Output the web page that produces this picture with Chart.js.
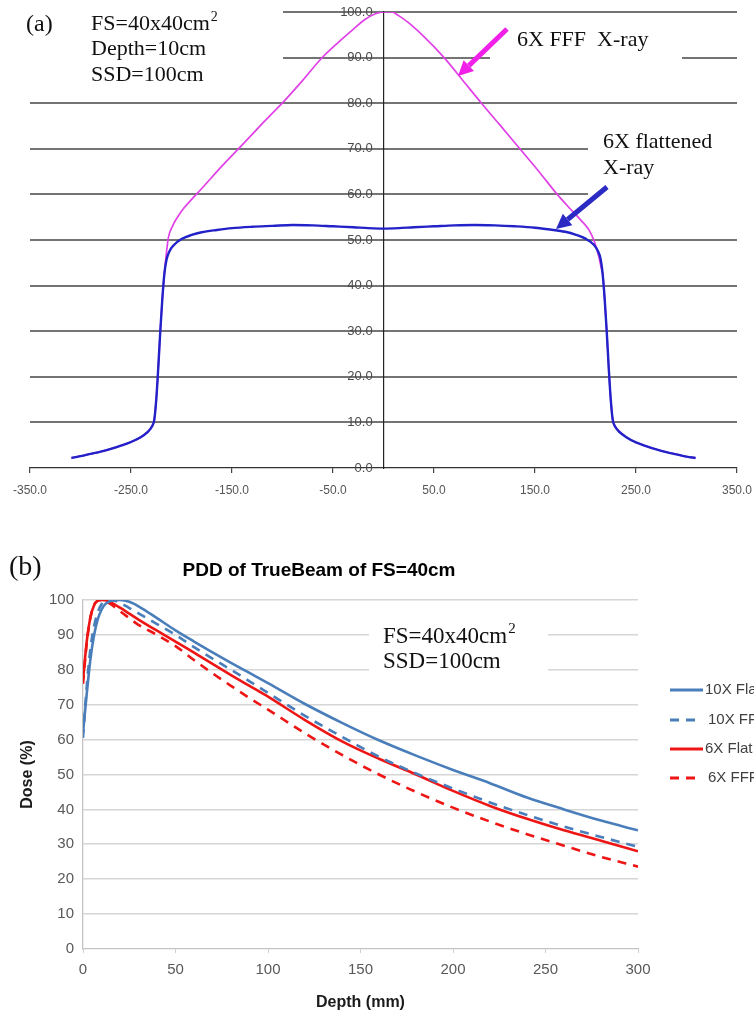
<!DOCTYPE html>
<html><head><meta charset="utf-8">
<script src="https://cdn.jsdelivr.net/npm/chart.js@4.4.1/dist/chart.umd.min.js"></script>
<style>
html,body{margin:0;padding:0;background:#fff;overflow:hidden;}
#wrapA{position:absolute;left:0;top:0;width:754px;height:500px;}
#wrapB{position:absolute;left:0;top:500px;width:754px;height:521px;}
canvas{display:block;}
</style></head><body>
<div id="wrapA"><canvas id="cA" width="754" height="500" style="width:754px;height:500px"></canvas></div>
<div id="wrapB"><canvas id="cB" width="754" height="521" style="width:754px;height:521px"></canvas></div>
<script>
// ---------- Panel (a): beam profiles (off-axis distance in mm, relative dose) ----------
const profileFlattened = [[-309,2.2],[-300,2.6],[-290,3.1],[-280,3.6],[-270,4.2],[-260,4.9],[-250,5.7],[-240,6.8],[-234,7.8],[-229,9.2],[-227,10.5],[-225,15],[-223,22],[-221,30],[-219,37],[-217,42.5],[-215,45.5],[-212,47.5],[-208,48.8],[-200,50.2],[-190,51.1],[-180,51.7],[-165,52.2],[-150,52.6],[-130,52.9],[-110,53.1],[-90,53.3],[-70,53.2],[-50,53.0],[-30,52.8],[-15,52.6],[0,52.5],[15,52.6],[30,52.8],[50,53.0],[70,53.2],[90,53.3],[110,53.2],[130,53.0],[150,52.7],[165,52.3],[180,51.8],[190,51.2],[200,50.3],[208,49.0],[212,47.7],[215,45.8],[217,42.5],[219,37],[221,30],[223,22],[225,15],[227,10.5],[229,9.2],[234,7.8],[240,6.8],[250,5.6],[260,4.8],[270,4.1],[280,3.5],[290,3.0],[300,2.5],[309,2.2]];
const profileFFF = [[-309,2.2],[-300,2.6],[-290,3.1],[-280,3.6],[-270,4.2],[-260,4.9],[-250,5.7],[-240,6.8],[-234,7.8],[-231,8.5],[-229,9.2],[-227,10.5],[-225,15],[-223,22],[-221,30],[-219,37],[-217,42.5],[-215.5,46],[-213,50.5],[-209,53],[-204,55],[-198,56.9],[-190,58.9],[-180,61.3],[-160,66.2],[-138,71.3],[-118,76],[-97,80.8],[-80,85],[-62,89.7],[-45,93.3],[-30,96.2],[-18,98.4],[-8,99.6],[0,100],[8,100],[15,99.2],[25,97.6],[40,94.6],[60,90],[80,84.6],[97,80],[115,75.3],[135,70],[155,64.7],[172,60],[185,56.8],[196,54.2],[204,52],[209,49.5],[213,46.5],[216,43.5],[217,42.5],[219,37],[221,30],[223,22],[225,15],[227,10.5],[229,9.2],[232,8.4],[240,6.8],[250,5.6],[260,4.8],[270,4.1],[280,3.5],[290,3.0],[300,2.5],[309,2.2]];
const profileXTicks = [-350,-250,-150,-50,50,150,250,350];

// ---------- Panel (b): PDD ----------
const depthMM = [0,2,4,6,8,10,12,15,20,25,30,40,50,60,70,80,90,100,120,140,160,180,200,220,240,260,280,300];
const pdd10XFlat = [62,73,83,90,94.5,97.2,98.8,99.7,100,99.5,98.2,94.8,91.3,88.1,85,82,79.1,76.2,70.2,64.8,59.8,55.4,51.3,47.5,43.4,40,36.8,34];
const pdd10XFFF  = [60.5,75,86,92.5,96.5,98.8,99.8,100,99.2,97.7,96.2,93.1,90,86.5,83.2,80,76.7,73.4,66.8,60.8,55.1,50.3,46,42,38.4,35.1,32.1,29.3];
const pdd6XFlat  = [77,88,95,98.5,99.8,100,99.9,99.3,97.8,96.1,94.4,91.2,88.1,84.9,81.7,78.5,75.4,72.3,65.6,59.5,54.5,50,45.3,41,37.3,34,31,28];
const pdd6XFFF   = [76,87.5,95,98.6,99.8,100,99.7,98.8,96.8,94.8,92.9,90,86.8,82.8,79,75.4,71.9,68.6,61.8,55.6,50,45,40.5,36.5,32.9,29.6,26.4,23.6];
const pddLabels = ['10X Flat','10X FFF','6X Flat','6X FFF'];

const serif = "'Liberation Serif','Times New Roman',serif";
const sans = "'Liberation Sans','Arial',sans-serif";

function pts(arr){ return arr.map(p => ({x:p[0], y:p[1]})); }
function zip(xs, ys){ return xs.map((x,i) => ({x, y: ys[i]})); }

function arrow(ctx, x1, y1, x2, y2, color, w, hl, hw){
  const a = Math.atan2(y2-y1, x2-x1);
  const bx = x2 - hl*Math.cos(a), by = y2 - hl*Math.sin(a);
  ctx.save();
  ctx.strokeStyle = color; ctx.lineWidth = w; ctx.lineCap = 'butt';
  ctx.beginPath(); ctx.moveTo(x1,y1); ctx.lineTo(bx,by); ctx.stroke();
  ctx.fillStyle = color; ctx.beginPath(); ctx.moveTo(x2,y2);
  ctx.lineTo(bx + hw/2*Math.sin(a), by - hw/2*Math.cos(a));
  ctx.lineTo(bx - hw/2*Math.sin(a), by + hw/2*Math.cos(a));
  ctx.closePath(); ctx.fill(); ctx.restore();
}

const annotA = {
  id: 'annotA',
  beforeDatasetsDraw(chart){
    const ctx = chart.ctx;
    ctx.save(); ctx.fillStyle = '#fff';
    ctx.fillRect(0, 0, 283, 86);
    ctx.fillRect(490, 30, 192, 50);
    ctx.fillRect(588, 122, 166, 86);
    ctx.restore();
  },
  afterDatasetsDraw(chart){
    const ctx = chart.ctx;
    ctx.save();
    ctx.fillStyle = '#111'; ctx.textBaseline = 'alphabetic'; ctx.textAlign = 'left';
    ctx.font = '24px ' + serif; ctx.fillText('(a)', 26, 31);
    ctx.font = '22px ' + serif;
    ctx.fillText('FS=40x40cm', 91, 30);
    const w = ctx.measureText('FS=40x40cm').width;
    ctx.font = '14px ' + serif; ctx.fillText('2', 91 + w + 1, 21);
    ctx.font = '22px ' + serif;
    ctx.fillText('Depth=10cm', 91, 55);
    ctx.fillText('SSD=100cm', 91, 81);
    ctx.fillText('6X FFF  X-ray', 517, 46);
    ctx.fillText('6X flattened', 603, 148);
    ctx.fillText('X-ray', 603, 174);
    ctx.restore();
    arrow(ctx, 507, 29, 458, 76, '#f020e8', 5, 15, 15);
    arrow(ctx, 607, 187, 556, 229, '#2b2bc4', 5, 15, 15);
  }
};

new Chart(document.getElementById('cA'), {
  type: 'scatter',
  data: { datasets: [
    { label: '6X flattened X-ray', data: pts(profileFlattened), showLine: true, borderColor: '#2222c8', borderWidth: 2.4, pointRadius: 0, cubicInterpolationMode: 'monotone' },
    { label: '6X FFF X-ray', data: pts(profileFFF), showLine: true, borderColor: '#e040e6', borderWidth: 1.7, pointRadius: 0, cubicInterpolationMode: 'monotone' }
  ]},
  options: {
    responsive: false, animation: false, devicePixelRatio: 1,
    layout: { padding: { left: 30, right: 17, top: 12, bottom: 0 } },
    plugins: { legend: { display: false }, tooltip: { enabled: false } },
    scales: {
      x: {
        type: 'linear', min: -350, max: 350, position: 'bottom',
        afterBuildTicks: ax => { ax.ticks = profileXTicks.map(v => ({ value: v })); },
        afterFit: ax => { ax.height = 32; ax.paddingLeft = 0; ax.paddingRight = 0; },
        grid: { drawOnChartArea: false, drawTicks: true, tickLength: 5, color: '#444', lineWidth: 1.2 },
        border: { color: '#333', width: 1.3 },
        ticks: { callback: v => Number(v).toFixed(1), font: { family: sans, size: 12 }, color: '#555', padding: 10, maxRotation: 0, autoSkip: false }
      },
      y: {
        type: 'linear', min: 0, max: 100, position: { x: 0 },
        afterFit: ax => { ax.width = 0; ax.paddingLeft = 0; ax.paddingRight = 0; },
        ticks: { stepSize: 10, callback: v => Number(v).toFixed(1) + '   ', font: { family: sans, size: 13 }, color: '#4a4a4a', padding: 0 },
        grid: { color: c => (c.tick && c.tick.value === 0) ? 'rgba(0,0,0,0)' : '#747474', lineWidth: 2, drawTicks: false },
        border: { color: '#222', width: 1.2 }
      }
    }
  },
  plugins: [annotA]
});

// ---------- Panel (b) ----------
const legendPos = [190, 220, 249, 278];
const annotB = {
  id: 'annotB',
  beforeDatasetsDraw(chart){
    const ctx = chart.ctx;
    ctx.save(); ctx.fillStyle = '#fff';
    ctx.fillRect(369, 116, 179, 64);
    ctx.restore();
  },
  afterDraw(chart){
    const ctx = chart.ctx;
    ctx.save();
    ctx.fillStyle = '#111'; ctx.textAlign = 'left'; ctx.textBaseline = 'alphabetic';
    ctx.font = '28px ' + serif; ctx.fillText('(b)', 9, 75);
    ctx.font = '23px ' + serif;
    ctx.fillText('FS=40x40cm', 383, 143);
    const w = ctx.measureText('FS=40x40cm').width;
    ctx.font = '15px ' + serif; ctx.fillText('2', 383 + w + 1, 133);
    ctx.font = '23px ' + serif;
    ctx.fillText('SSD=100cm', 383, 168);
    // legend built from the datasets
    chart.data.datasets.forEach((ds, i) => {
      const y = legendPos[i];
      const dashed = !!(ds.borderDash && ds.borderDash.length);
      ctx.save();
      ctx.strokeStyle = ds.borderColor; ctx.lineWidth = 3;
      ctx.setLineDash(ds.borderDash || []);
      ctx.beginPath(); ctx.moveTo(670, y); ctx.lineTo(dashed ? 696 : 703, y); ctx.stroke();
      ctx.restore();
      ctx.fillStyle = '#404040'; ctx.font = '15px ' + sans; ctx.textBaseline = 'middle';
      ctx.fillText(ds.label, dashed ? 708 : 705, y);
    });
    ctx.restore();
  }
};

const blue = '#4a7ebb', red = '#ee1515';
new Chart(document.getElementById('cB'), {
  type: 'scatter',
  data: { datasets: [
    { label: pddLabels[0], data: zip(depthMM, pdd10XFlat), showLine: true, borderColor: blue, borderWidth: 2.6, pointRadius: 0, cubicInterpolationMode: 'monotone' },
    { label: pddLabels[1], data: zip(depthMM, pdd10XFFF), showLine: true, borderColor: blue, borderWidth: 2.6, borderDash: [9, 7], pointRadius: 0, cubicInterpolationMode: 'monotone' },
    { label: pddLabels[2], data: zip(depthMM, pdd6XFlat), showLine: true, borderColor: red, borderWidth: 2.6, pointRadius: 0, cubicInterpolationMode: 'monotone' },
    { label: pddLabels[3], data: zip(depthMM, pdd6XFFF), showLine: true, borderColor: red, borderWidth: 2.6, borderDash: [9, 7], pointRadius: 0, cubicInterpolationMode: 'monotone' }
  ]},
  options: {
    responsive: false, animation: false, devicePixelRatio: 1,
    layout: { padding: { left: 0, right: 116, top: 0, bottom: 0 } },
    plugins: {
      legend: { display: false }, tooltip: { enabled: false },
      title: { display: true, text: 'PDD of TrueBeam of FS=40cm', color: '#000', font: { family: sans, size: 19, weight: 'bold' }, padding: { top: 59, bottom: 18.2 }, align: 'center' }
    },
    scales: {
      x: {
        type: 'linear', min: 0, max: 300,
        afterFit: ax => { ax.height = 72; },
        ticks: { stepSize: 50, font: { family: sans, size: 15 }, color: '#595959', padding: 8, maxRotation: 0 },
        grid: { drawOnChartArea: false, drawTicks: true, tickLength: 4, color: '#cfcfcf' },
        border: { color: '#c4c4c4', width: 1.3 },
        title: { display: true, text: 'Depth (mm)', color: '#1a1a1a', font: { family: sans, size: 16, weight: 'bold' }, padding: { top: 0, bottom: 9 } }
      },
      y: {
        type: 'linear', min: 0, max: 100,
        afterFit: ax => { ax.width = 83; },
        ticks: { stepSize: 10, font: { family: sans, size: 15 }, color: '#595959', padding: 9 },
        grid: { color: c => (c.tick && c.tick.value === 0) ? 'rgba(0,0,0,0)' : '#d6d6d6', lineWidth: 1.6, drawTicks: false },
        border: { color: '#c4c4c4', width: 1.3 },
        title: { display: true, text: 'Dose (%)', color: '#1a1a1a', font: { family: sans, size: 16, weight: 'bold' }, padding: { top: 18, bottom: 0 } }
      }
    }
  },
  plugins: [annotB]
});
</script></body></html>
